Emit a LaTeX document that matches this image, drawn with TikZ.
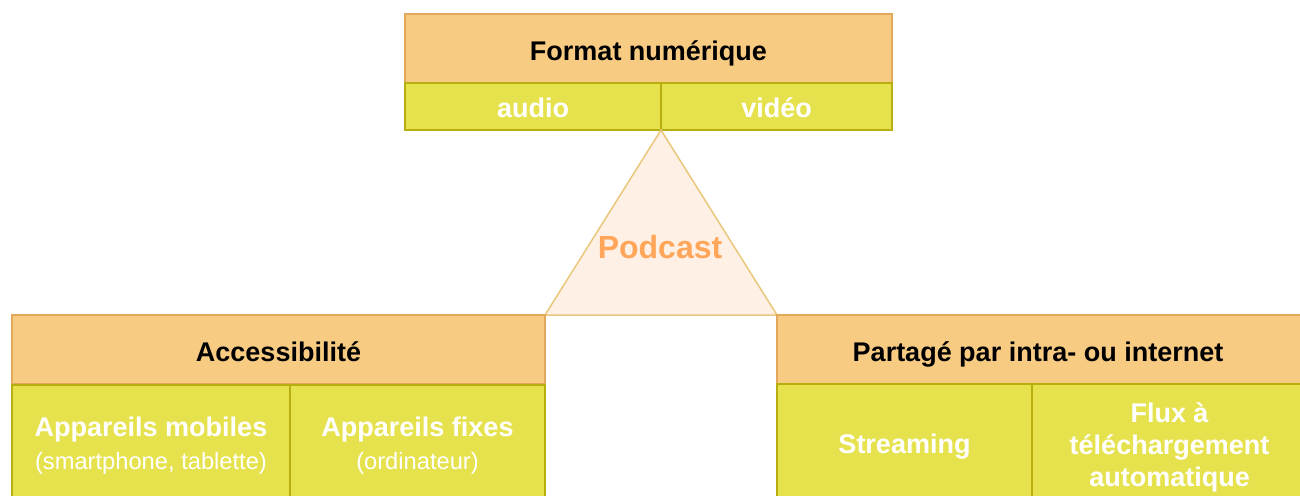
\documentclass[tikz,border=0pt]{standalone}
\usepackage{fontspec}
\setmainfont{Liberation Sans}
\definecolor{hdrfill}{HTML}{F8CB82}
\definecolor{hdrline}{HTML}{E2A75A}
\definecolor{subfill}{HTML}{E6E24E}
\definecolor{subline}{HTML}{B8AE10}
\definecolor{trifill}{HTML}{FEF0E4}
\definecolor{triline}{HTML}{E9C87C}
\definecolor{podc}{HTML}{FFA65A}
\begin{document}
\begin{tikzpicture}[x=1pt,y=-1pt,
  hdr/.style={draw=hdrline,fill=hdrfill,line width=1.5pt,inner sep=0pt,
    text height=23pt,text depth=0pt,
    font=\fontsize{27}{30}\selectfont\bfseries},
  sub/.style={draw=subline,fill=subfill,line width=1.5pt,inner sep=0pt,text=white,
    font=\fontsize{27}{32}\selectfont\bfseries,align=center}]
\useasboundingbox (0,0) rectangle (1300,495);
\fill[white] (0,0) rectangle (1300,495);
% top block
\node[hdr,minimum width=487pt,minimum height=69pt] (fmt) at (648.5,48.5) {Format numérique};
\node[sub,minimum width=256pt,minimum height=47pt,text height=21.6pt,text depth=0pt] (audio) at (533,106.5) {audio};
\node[sub,minimum width=231pt,minimum height=47pt,text height=21.6pt,text depth=0pt] (video) at (776.5,106.5) {vidéo};
% triangle
\coordinate (apex) at (661,130);
\coordinate (bl) at (545,315);
\coordinate (br) at (777,315);
\draw[triline,fill=trifill,line width=1.5pt,line join=miter] (apex) -- (bl) -- (br) -- cycle;
\node[text=podc,font=\fontsize{32}{36}\selectfont\bfseries] (pod) at (660,247) {Podcast};
% left block
\node[hdr,minimum width=533pt,minimum height=69pt] (acc) at (278.5,349.5) {Accessibilité};
\node[sub,minimum width=278pt,minimum height=122pt] (mob) at (151,446)
  {Appareils mobiles\\[1pt]{\fontsize{23.7}{30}\selectfont\mdseries (smartphone, tablette)}};
\node[sub,minimum width=255pt,minimum height=122pt] (fix) at (417.5,446)
  {Appareils fixes\\[1pt]{\fontsize{23.7}{30}\selectfont\mdseries (ordinateur)}};
% right block (extends past the right edge)
\node[hdr,minimum width=530pt,minimum height=69pt] (part) at (1042,349.5) {\hspace*{-8pt}Partagé par intra- ou internet};
\node[sub,minimum width=255pt,minimum height=122pt,text height=16.6pt,text depth=0pt] (str) at (904.5,445) {Streaming};
\node[sub,minimum width=275pt,minimum height=126pt] (flux) at (1169.5,447)
  {Flux à\\téléchargement\\automatique\hspace*{0pt}};
\end{tikzpicture}
\end{document}
